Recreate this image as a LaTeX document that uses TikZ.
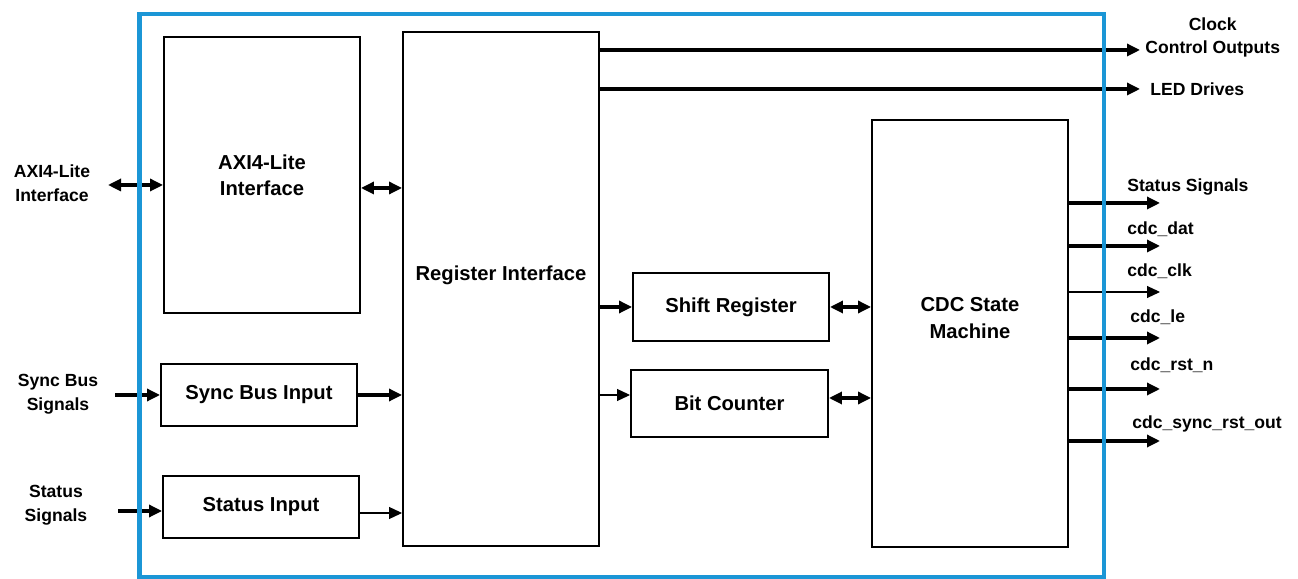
\documentclass[tikz,border=0pt]{standalone}
\usepackage{fontspec}
\setmainfont{Liberation Sans}
\usetikzlibrary{arrows.meta,positioning}
\definecolor{framecol}{RGB}{27,150,214}

\begin{document}
\begin{tikzpicture}[
  blk/.style={draw, line width=1.1pt, minimum width=3.92cm, inner sep=0pt,
    font=\fontsize{11.5}{15}\selectfont\bfseries, align=center},
  blktxt/.style={font=\fontsize{11.5}{15}\selectfont\bfseries, align=center, inner sep=0pt},
  lbl/.style={font=\fontsize{10}{13.5}\selectfont\bfseries, align=center, inner sep=0pt},
  arr/.style={line width=1.8pt, -{Triangle[length=0.26cm,width=0.24cm]}},
  thinarr/.style={line width=0.6pt, -{Triangle[length=0.26cm,width=0.24cm]}},
  both/.style={line width=1.8pt, {Triangle[length=0.26cm,width=0.24cm]}-{Triangle[length=0.26cm,width=0.24cm]}}
]
\useasboundingbox (0,0) rectangle (25.96,11.58);

% Blocks
\node[blk, minimum height=5.52cm] (axi) at (5.24,8.08) {AXI4-Lite\\Interface};
\node[blk, minimum height=10.28cm] (reg) at (10.02,5.80) {};
\node[blktxt] (regtxt) at ([yshift=0.28cm]reg.center) {Register Interface};
\node[blk, minimum height=1.24cm] (sync) at (5.18,3.68) {Sync Bus Input};
\node[blk, minimum height=1.24cm] (stat) at (5.22,1.44) {Status Input};
\node[blk, minimum height=1.36cm] (shift) at (14.62,5.44) {Shift Register};
\node[blk, minimum height=1.34cm, minimum width=3.94cm] (bitc) at (14.59,3.51) {Bit Counter};
\node[blk, minimum height=8.54cm] (cdc) at (19.40,4.91) {};
\node[blktxt] (cdctxt) at ([yshift=0.31cm]cdc.center) {CDC State\\Machine};

% Inputs
\node[lbl] (axilbl) at (1.04,7.92) {AXI4-Lite\\Interface};
\coordinate (axiin) at (2.16,7.88);
\draw[both] (axiin) -- (axiin -| axi.west);

\node[lbl] (synclbl) at (1.16,3.70) {Sync Bus\\Signals};
\coordinate (syncin) at (2.30,3.68);
\draw[arr] (syncin) -- (syncin -| sync.west);

\node[lbl] (statlbl) at (1.12,1.48) {Status\\Signals};
\coordinate (statin) at (2.36,1.36);
\draw[arr] (statin) -- (statin -| stat.west);

% Internal connections
\draw[both] ([yshift=-0.26cm]axi.east) -- ([yshift=-0.26cm]axi.east -| reg.west);
\draw[arr] (sync.east) -- (sync.east -| reg.west);
\draw[thinarr] ([yshift=-0.12cm]stat.east) -- ([yshift=-0.12cm]stat.east -| reg.west);
\draw[arr] (shift.west -| reg.east) -- (shift.west);
\draw[thinarr] ([yshift=0.17cm]bitc.west -| reg.east) -- ([yshift=0.17cm]bitc.west);
\draw[both] (shift.east) -- (shift.east -| cdc.west);
\draw[both] ([yshift=0.11cm]bitc.east) -- ([yshift=0.11cm]bitc.east -| cdc.west);

% Register outputs
\coordinate (clktip) at (22.80,10.58);
\draw[arr] (clktip -| reg.east) -- (clktip);
\node[lbl, anchor=west] (clklbl) at ([xshift=0.1cm, yshift=0.25cm]clktip) {Clock\\Control Outputs};
\coordinate (ledtip) at (22.80,9.80);
\draw[arr] (ledtip -| reg.east) -- (ledtip);
\node[lbl, anchor=west] (ledlbl) at ([xshift=0.2cm]ledtip) {LED Drives};

% CDC outputs
\coordinate (o1) at (23.20,7.52);
\draw[arr] (o1 -| cdc.east) -- (o1);
\node[lbl, anchor=base west] (o1lbl) at (22.54,7.75) {Status Signals};
\coordinate (o2) at (23.20,6.66);
\draw[arr] (o2 -| cdc.east) -- (o2);
\node[lbl, anchor=base west] (o2lbl) at (22.54,6.89) {cdc\_dat};
\coordinate (o3) at (23.20,5.74);
\draw[thinarr] (o3 -| cdc.east) -- (o3);
\node[lbl, anchor=base west] (o3lbl) at (22.54,6.05) {cdc\_clk};
\coordinate (o4) at (23.20,4.82);
\draw[arr] (o4 -| cdc.east) -- (o4);
\node[lbl, anchor=base west] (o4lbl) at (22.60,5.13) {cdc\_le};
\coordinate (o5) at (23.20,3.80);
\draw[arr] (o5 -| cdc.east) -- (o5);
\node[lbl, anchor=base west] (o5lbl) at (22.60,4.17) {cdc\_rst\_n};
\coordinate (o6) at (23.20,2.76);
\draw[arr] (o6 -| cdc.east) -- (o6);
\node[lbl, anchor=base west] (o6lbl) at (22.64,3.01) {cdc\_sync\_rst\_out};

% Outer frame
\draw[framecol, line width=2.6pt] (2.79,0.04) rectangle (22.08,11.30);
\end{tikzpicture}
\end{document}
